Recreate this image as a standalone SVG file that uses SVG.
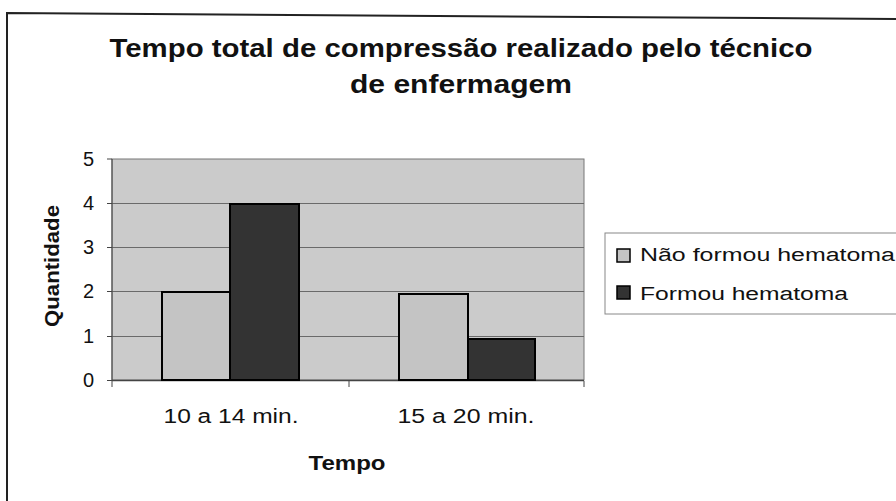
<svg xmlns="http://www.w3.org/2000/svg" width="896" height="501" viewBox="0 0 896 501">
<style>
text{font-family:"Liberation Sans",Arial,sans-serif;fill:#111}
.t{font-size:25px;font-weight:bold}
.n{font-size:20px}
.lg{font-size:18px}
.ax{font-size:21px;font-weight:bold}
.grid{stroke:#6a6a6a;stroke-width:1}
.bar{stroke:#000;stroke-width:2}
.light{fill:#c4c4c4}
.dark{fill:#333}
</style>
<rect width="896" height="501" fill="#fff"/>
<path d="M7,501 L7,13 L896,19" fill="none" stroke="#222" stroke-width="2"/>
<g id="title">
<text class="t" x="461" y="57" text-anchor="middle" textLength="703" lengthAdjust="spacingAndGlyphs">Tempo total de compressão realizado pelo técnico</text>
<text class="t" x="461" y="93" text-anchor="middle" textLength="222" lengthAdjust="spacingAndGlyphs">de enfermagem</text>
</g>
<g id="plot">
<rect x="112" y="159" width="472" height="221" fill="#cbcbcb" stroke="#777" stroke-width="1"/>
<line class="grid" x1="112" y1="203.5" x2="584" y2="203.5"/>
<line class="grid" x1="112" y1="247.5" x2="584" y2="247.5"/>
<line class="grid" x1="112" y1="291.5" x2="584" y2="291.5"/>
<line class="grid" x1="112" y1="336.5" x2="584" y2="336.5"/>
<line x1="112" y1="380.5" x2="584" y2="380.5" stroke="#444" stroke-width="1.5"/>
<line x1="112" y1="159" x2="112" y2="381" stroke="#444" stroke-width="1"/>
<g stroke="#444" stroke-width="1">
<line x1="107" y1="159" x2="112" y2="159"/>
<line x1="107" y1="203.5" x2="112" y2="203.5"/>
<line x1="107" y1="247.5" x2="112" y2="247.5"/>
<line x1="107" y1="291.5" x2="112" y2="291.5"/>
<line x1="107" y1="336.5" x2="112" y2="336.5"/>
<line x1="107" y1="380.5" x2="112" y2="380.5"/>
<line x1="112" y1="381" x2="112" y2="387"/>
<line x1="349" y1="381" x2="349" y2="387"/>
<line x1="584" y1="381" x2="584" y2="387"/>
</g>
</g>
<g id="bars">
<rect class="bar light" x="162" y="292" width="68" height="88"/>
<rect class="bar dark" x="230" y="204" width="69" height="176"/>
<rect class="bar light" x="399" y="294" width="69" height="86"/>
<rect class="bar dark" x="468" y="339" width="67" height="41"/>
</g>
<g id="yaxis" text-anchor="end">
<text class="n" x="94" y="166">5</text>
<text class="n" x="94" y="210">4</text>
<text class="n" x="94" y="254">3</text>
<text class="n" x="94" y="298">2</text>
<text class="n" x="94" y="343">1</text>
<text class="n" x="94" y="387">0</text>
</g>
<text class="ax" transform="translate(59,266) rotate(-90)" text-anchor="middle" textLength="122" lengthAdjust="spacingAndGlyphs">Quantidade</text>
<g id="xaxis">
<text class="n" x="231" y="423" text-anchor="middle" textLength="135" lengthAdjust="spacingAndGlyphs">10 a 14 min.</text>
<text class="n" x="466" y="423" text-anchor="middle" textLength="137" lengthAdjust="spacingAndGlyphs">15 a 20 min.</text>
<text class="ax" x="347" y="470" text-anchor="middle" textLength="77" lengthAdjust="spacingAndGlyphs">Tempo</text>
</g>
<g id="legend">
<rect x="605" y="233" width="300" height="81" fill="#fff" stroke="#888" stroke-width="1"/>
<rect x="617" y="249" width="13" height="13" fill="#c4c4c4" stroke="#000" stroke-width="1.5"/>
<text class="lg" x="640" y="261" textLength="255" lengthAdjust="spacingAndGlyphs">Não formou hematoma</text>
<rect x="617" y="286" width="13" height="13" fill="#333" stroke="#000" stroke-width="1.5"/>
<text class="lg" x="640" y="300" textLength="208" lengthAdjust="spacingAndGlyphs">Formou hematoma</text>
</g>
</svg>
